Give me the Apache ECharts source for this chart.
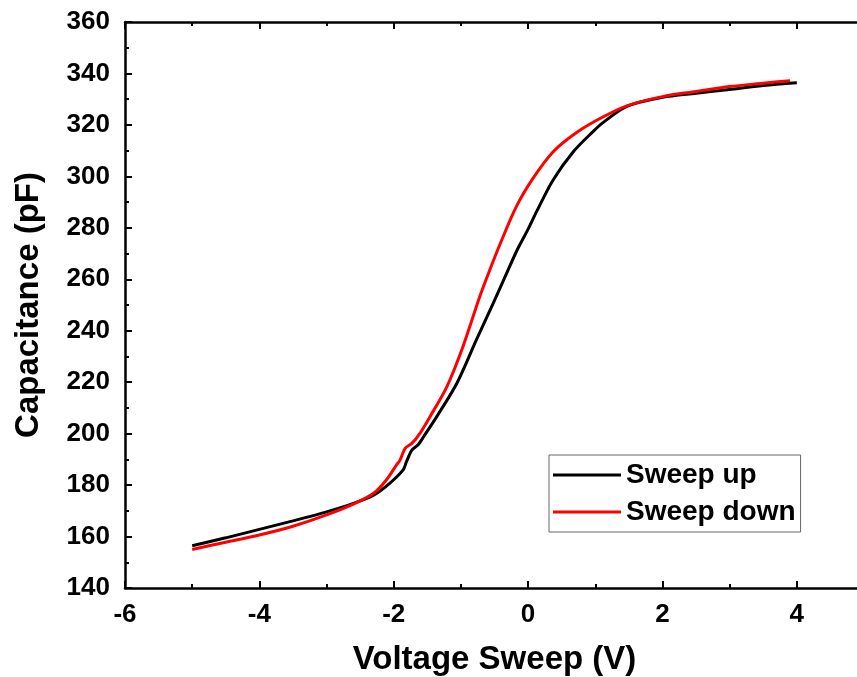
<!DOCTYPE html>
<html>
<head>
<meta charset="utf-8">
<script src="https://cdn.jsdelivr.net/npm/echarts@6/dist/echarts.min.js"></script>
<style>
html,body{margin:0;padding:0;background:#fff;}
#chart{width:857px;height:677px;}
</style>
</head>
<body>
<div id="chart"></div>
<script>
// Data
const seriesNames = ["Sweep up", "Sweep down"];
const upV = [-5, -4.5, -4, -3.5, -3, -2.6, -2.3, -2.06, -1.86, -1.81, -1.73, -1.64, -1.55, -1.36, -1.06, -0.77, -0.52, -0.32, -0.17, 0, 0.13, 0.37, 0.67, 0.97, 1.12, 1.47, 2, 2.5, 3, 3.5, 4];
const upC = [156.4, 159.5, 162.8, 166.1, 169.6, 172.9, 176.1, 180.7, 185.9, 189.1, 193.6, 195.6, 199.0, 206.6, 219.6, 236.4, 250.6, 262.3, 271.0, 279.5, 286.5, 298.5, 309.5, 317.5, 321.0, 327.2, 330.7, 332.3, 333.8, 335.3, 336.4];
const downV = [-5, -4.5, -4, -3.5, -3, -2.6, -2.3, -2.11, -1.96, -1.91, -1.83, -1.73, -1.61, -1.46, -1.21, -0.97, -0.72, -0.57, -0.42, -0.17, 0.08, 0.37, 0.67, 1.0, 1.47, 2, 2.5, 3, 3.5, 3.9];
const downC = [155.0, 157.8, 160.6, 164.0, 168.4, 172.6, 176.8, 182.0, 187.8, 189.5, 194.3, 196.2, 200.1, 206.6, 218.2, 233.8, 253.2, 263.6, 273.5, 288.5, 299.5, 309.5, 316.1, 321.5, 327.4, 331.0, 333.0, 334.9, 336.2, 337.2];
const xTicks = { min: -6, max: 5, interval: 2 };
const yTicks = { min: 140, max: 360, interval: 20 };
const xTitle = "Voltage Sweep (V)";
const yTitle = "Capacitance (pF)";

const zip = (a, b) => a.map((v, i) => [v, b[i]]);
const FONT = "Liberation Sans, Arial, sans-serif";

const chart = echarts.init(document.getElementById('chart'), null, { renderer: 'canvas' });

const axisLine = { show: true, onZero: false, lineStyle: { color: '#000', width: 2.5 } };
const axisTick = { show: true, inside: true, length: 7, lineStyle: { color: '#000', width: 2 } };
const minorTick = { show: true, splitNumber: 2, length: 4, lineStyle: { color: '#000', width: 2 } };

chart.setOption({
  animation: false,
  backgroundColor: '#fff',
  grid: { left: 125, top: 22, width: 739, bottom: 89, containLabel: false, outerBoundsMode: 'none' },
  legend: {
    orient: 'vertical',
    left: 549,
    top: 455,
    padding: [5, 5, 5, 4],
    itemGap: 7,
    itemWidth: 68,
    itemHeight: 3,
    icon: 'rect',
    borderColor: '#666',
    borderWidth: 1,
    data: seriesNames,
    textStyle: { fontFamily: FONT, fontWeight: 'bold', fontSize: 28, color: '#000', lineHeight: 30 }
  },
  xAxis: [
    {
      type: 'value', min: xTicks.min, max: xTicks.max, interval: xTicks.interval,
      name: xTitle, nameLocation: 'middle', nameGap: 55,
      nameTextStyle: { fontFamily: FONT, fontWeight: 'bold', fontSize: 33, color: '#000' },
      axisLine, axisTick, minorTick, splitLine: { show: false },
      axisLabel: {
        margin: 14, fontFamily: FONT, fontWeight: 'bold', fontSize: 26, color: '#000',
        formatter: v => (v > 4.5 ? '' : String(v))
      }
    },
    {
      type: 'value', position: 'top', min: xTicks.min, max: xTicks.max, interval: xTicks.interval,
      axisLine, axisTick, minorTick, splitLine: { show: false }, axisLabel: { show: false }
    }
  ],
  yAxis: [
    {
      type: 'value', min: yTicks.min, max: yTicks.max, interval: yTicks.interval,
      name: yTitle, nameLocation: 'middle', nameGap: 80,
      nameTextStyle: { fontFamily: FONT, fontWeight: 'bold', fontSize: 33, color: '#000' },
      axisLine, axisTick, minorTick, splitLine: { show: false },
      axisLabel: { margin: 15, fontFamily: FONT, fontWeight: 'bold', fontSize: 26, color: '#000' }
    },
    {
      type: 'value', position: 'right', min: yTicks.min, max: yTicks.max, interval: yTicks.interval,
      axisLine, axisTick, minorTick, splitLine: { show: false }, axisLabel: { show: false }
    }
  ],
  series: [
    {
      name: seriesNames[0], type: 'line', data: zip(upV, upC),
      showSymbol: false, symbol: 'none', smooth: 0.3,
      lineStyle: { color: '#000', width: 3 }, itemStyle: { color: '#000' }
    },
    {
      name: seriesNames[1], type: 'line', data: zip(downV, downC),
      showSymbol: false, symbol: 'none', smooth: 0.3,
      lineStyle: { color: '#ff0000', width: 3 }, itemStyle: { color: '#ff0000' }
    }
  ]
});
</script>
</body>
</html>
